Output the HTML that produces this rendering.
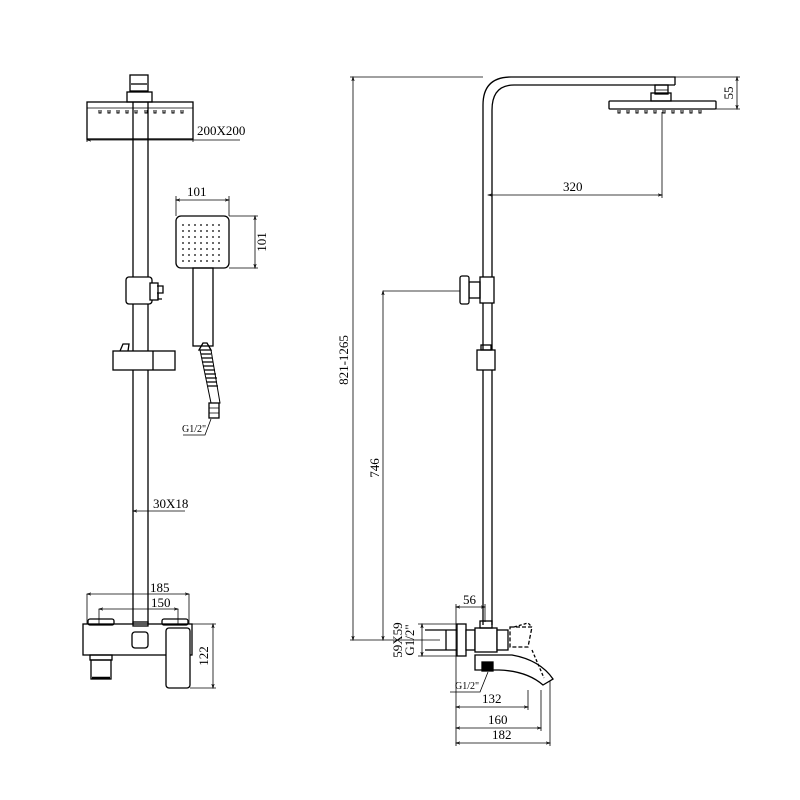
<!DOCTYPE html>
<html><head><meta charset="utf-8"><style>
html,body{margin:0;padding:0;background:#fff;}
svg{display:block}
text{font-family:"Liberation Sans Narrow","Liberation Serif",serif;fill:#000}
</style></head><body>
<svg width="800" height="800" viewBox="0 0 800 800" xmlns="http://www.w3.org/2000/svg">
<defs>
<marker id="a" markerWidth="6" markerHeight="6" refX="5" refY="3" orient="auto-start-reverse"><path d="M0,1.5 L5,3 L0,4.5" fill="none" stroke="#000" stroke-width="0.8"/></marker>
<pattern id="dots" width="6" height="6" patternUnits="userSpaceOnUse"><circle cx="3" cy="3" r="0.9" fill="#000"/></pattern>
</defs>
<g fill="none" stroke="#000" stroke-width="1.3">
<!-- LEFT VIEW -->
<rect x="130" y="75" width="18" height="16"/>
<line x1="131" y1="84" x2="147" y2="84"/>
<rect x="127" y="92" width="25" height="10"/>
<rect x="87" y="102" width="106" height="37"/>
<line x1="87" y1="108" x2="193" y2="108" stroke-width="0.8"/>
<g stroke-width="1">
<path d="M99 110v3h2v-3M108 110v3h2v-3M117 110v3h2v-3M126 110v3h2v-3M135 110v3h2v-3M145 110v3h2v-3M154 110v3h2v-3M163 110v3h2v-3M172 110v3h2v-3M181 110v3h2v-3"/>
</g>
<line x1="133" y1="102" x2="133" y2="625"/>
<line x1="148" y1="102" x2="148" y2="625"/>
<!-- slider bracket -->
<rect x="126" y="277" width="26" height="27" rx="3" fill="#fff"/>
<rect x="150" y="283" width="8" height="17" fill="#fff"/>
<path d="M157 286h6v7h-6M158 293v6h4"/>
<!-- holder -->
<rect x="113" y="351" width="62" height="19" fill="#fff"/>
<line x1="153" y1="351" x2="153" y2="370"/>
<path d="M120 351l3-7h6l-1 7"/>
<!-- hand shower -->
<rect x="176" y="216" width="53" height="52" rx="5"/>
<rect x="182" y="222" width="42" height="40" fill="url(#dots)" stroke="none"/>
<rect x="193" y="268" width="20" height="78"/>
<path d="M199 350l4-7 4 0 4 7z"/>
<path d="M200 350l11 0 9 53-9 0z" stroke-width="1"/>
<path d="M201 354h10M202 358h10M202 362h11M203 366h11M204 370h11M205 374h11M206 378h11M207 382h10M208 386h10" stroke-width="1.2"/>
<rect x="209" y="403" width="10" height="15"/>
<path d="M209 408h10M209 413h10" stroke-width="0.8"/>
<path d="M183 435h22l6-16" stroke-width="0.8"/>
<!-- left dims -->
<g stroke-width="0.8">
<line x1="87" y1="138" x2="87" y2="142"/><line x1="193" y1="138" x2="193" y2="142"/>
<line x1="87" y1="140" x2="240" y2="140" marker-start="url(#a)"/>
<line x1="176" y1="196" x2="176" y2="216"/><line x1="229" y1="196" x2="229" y2="216"/>
<line x1="176" y1="200" x2="229" y2="200" marker-start="url(#a)" marker-end="url(#a)"/>
<line x1="229" y1="216" x2="258" y2="216"/><line x1="229" y1="268" x2="258" y2="268"/>
<line x1="255" y1="216" x2="255" y2="268" marker-start="url(#a)" marker-end="url(#a)"/>
<line x1="133" y1="511" x2="185" y2="511" marker-start="url(#a)"/>
<line x1="87" y1="594" x2="189" y2="594" marker-start="url(#a)" marker-end="url(#a)"/>
<line x1="87" y1="594" x2="87" y2="625"/><line x1="189" y1="594" x2="189" y2="625"/>
<line x1="99" y1="609" x2="178" y2="609" marker-start="url(#a)" marker-end="url(#a)"/>
<line x1="99" y1="609" x2="99" y2="625"/><line x1="178" y1="609" x2="178" y2="625"/>
<line x1="190" y1="624" x2="216" y2="624"/><line x1="190" y1="688" x2="216" y2="688"/>
<line x1="213" y1="624" x2="213" y2="688" marker-start="url(#a)" marker-end="url(#a)"/>
</g>
<!-- left body -->
<rect x="83" y="624" width="109" height="31" fill="#fff"/>
<rect x="88" y="619" width="26" height="6" rx="2"/>
<rect x="162" y="619" width="26" height="6" rx="2"/>
<rect x="133" y="622" width="15" height="4"/>
<rect x="132" y="632" width="16" height="16" rx="3"/>
<rect x="90" y="655" width="22" height="5"/>
<rect x="91" y="660" width="20" height="19"/>
<line x1="92" y1="678" x2="110" y2="678" stroke-width="2.5"/>
<rect x="166" y="628" width="24" height="60" rx="3" fill="#fff"/>
<!-- RIGHT VIEW -->
<path d="M483 625V105Q483 77 511 77H675V85"/>
<path d="M492 625V110Q492 85 514 85H675"/>
<rect x="655" y="85" width="13" height="9"/>
<line x1="655" y1="90" x2="668" y2="90" stroke-width="0.8"/>
<rect x="651" y="93" width="20" height="8"/>
<rect x="609" y="101" width="107" height="8" rx="1"/>
<g stroke-width="1"><path d="M618 110v3h2v-3M627 110v3h2v-3M636 110v3h2v-3M645 110v3h2v-3M654 110v3h2v-3M663 110v3h2v-3M672 110v3h2v-3M681 110v3h2v-3M690 110v3h2v-3M699 110v3h2v-3"/></g>
<rect x="480" y="277" width="14" height="26" fill="#fff"/>
<rect x="469" y="282" width="11" height="16"/>
<rect x="460" y="276" width="9" height="28" rx="2" fill="#fff"/>
<rect x="477" y="350" width="18" height="20" fill="#fff"/>
<rect x="481" y="345" width="10" height="5"/>
<!-- right dims -->
<g stroke-width="0.8">
<line x1="350" y1="77" x2="483" y2="77"/>
<line x1="353" y1="77" x2="353" y2="640" marker-start="url(#a)" marker-end="url(#a)"/>
<line x1="350" y1="640" x2="440" y2="640"/>
<line x1="383" y1="291" x2="460" y2="291"/>
<line x1="383" y1="291" x2="383" y2="640" marker-start="url(#a)" marker-end="url(#a)"/>
<line x1="675" y1="77" x2="740" y2="77"/><line x1="716" y1="109" x2="740" y2="109"/>
<line x1="737" y1="77" x2="737" y2="109" marker-start="url(#a)" marker-end="url(#a)"/>
<line x1="662" y1="112" x2="662" y2="198"/>
<line x1="488" y1="195" x2="662" y2="195" marker-start="url(#a)" marker-end="url(#a)"/>
<line x1="456" y1="604" x2="456" y2="746"/>
<line x1="485" y1="604" x2="485" y2="622"/>
<line x1="456" y1="607" x2="485" y2="607" marker-start="url(#a)" marker-end="url(#a)"/>
<line x1="418" y1="624" x2="457" y2="624"/><line x1="418" y1="656" x2="457" y2="656"/>
<line x1="422" y1="624" x2="422" y2="656" marker-start="url(#a)" marker-end="url(#a)"/>
<line x1="528" y1="690" x2="528" y2="710"/>
<line x1="456" y1="707" x2="528" y2="707" marker-start="url(#a)" marker-end="url(#a)"/>
<line x1="541" y1="690" x2="541" y2="731"/>
<line x1="456" y1="728" x2="541" y2="728" marker-start="url(#a)" marker-end="url(#a)"/>
<line x1="550" y1="680" x2="550" y2="746"/>
<line x1="456" y1="743" x2="550" y2="743" marker-start="url(#a)" marker-end="url(#a)"/>
<path d="M450 692h30l8-20"/>
</g>
<!-- right body -->
<line x1="425" y1="630" x2="457" y2="630"/>
<line x1="425" y1="650" x2="457" y2="650"/>
<line x1="446" y1="630" x2="446" y2="650"/>
<rect x="457" y="624" width="9" height="32" fill="#fff"/>
<rect x="466" y="630" width="9" height="20" fill="#fff"/>
<rect x="475" y="628" width="22" height="24" fill="#fff"/>
<rect x="480" y="621" width="12" height="7"/>
<rect x="497" y="630" width="11" height="20" fill="#fff"/>
<path d="M510 627h22l-4 20h-18z" stroke-dasharray="4 2"/>
<path d="M514 627l14-4 4 4" stroke-dasharray="3 2"/>
<path d="M475 655h37q28 5 41 24l-10 6q-16-14-44-15h-24z" fill="#fff"/>
<path d="M532 650l12 28" stroke-dasharray="3 2"/>
<rect x="482" y="662" width="11" height="9" fill="#000"/>
</g>
<!-- TEXT -->
<g font-size="13">
<text x="197" y="135">200X200</text>
<text x="187" y="196">101</text>
<text x="266" y="242" transform="rotate(-90 266 242)" text-anchor="middle">101</text>
<text x="182" y="432" font-size="10">G1/2"</text>
<text x="153" y="508">30X18</text>
<text x="150" y="592">185</text>
<text x="151" y="607">150</text>
<text x="208" y="656" transform="rotate(-90 208 656)" text-anchor="middle">122</text>
<text x="348" y="360" transform="rotate(-90 348 360)" text-anchor="middle">821-1265</text>
<text x="379" y="468" transform="rotate(-90 379 468)" text-anchor="middle">746</text>
<text x="733" y="93" transform="rotate(-90 733 93)" text-anchor="middle">55</text>
<text x="563" y="191">320</text>
<text x="463" y="604">56</text>
<text x="402" y="640" transform="rotate(-90 402 640)" text-anchor="middle">59X59</text>
<text x="414" y="640" transform="rotate(-90 414 640)" text-anchor="middle">G1/2"</text>
<text x="455" y="689" font-size="10">G1/2"</text>
<text x="482" y="703">132</text>
<text x="488" y="724">160</text>
<text x="492" y="739">182</text>
</g>
</svg>
</body></html>
